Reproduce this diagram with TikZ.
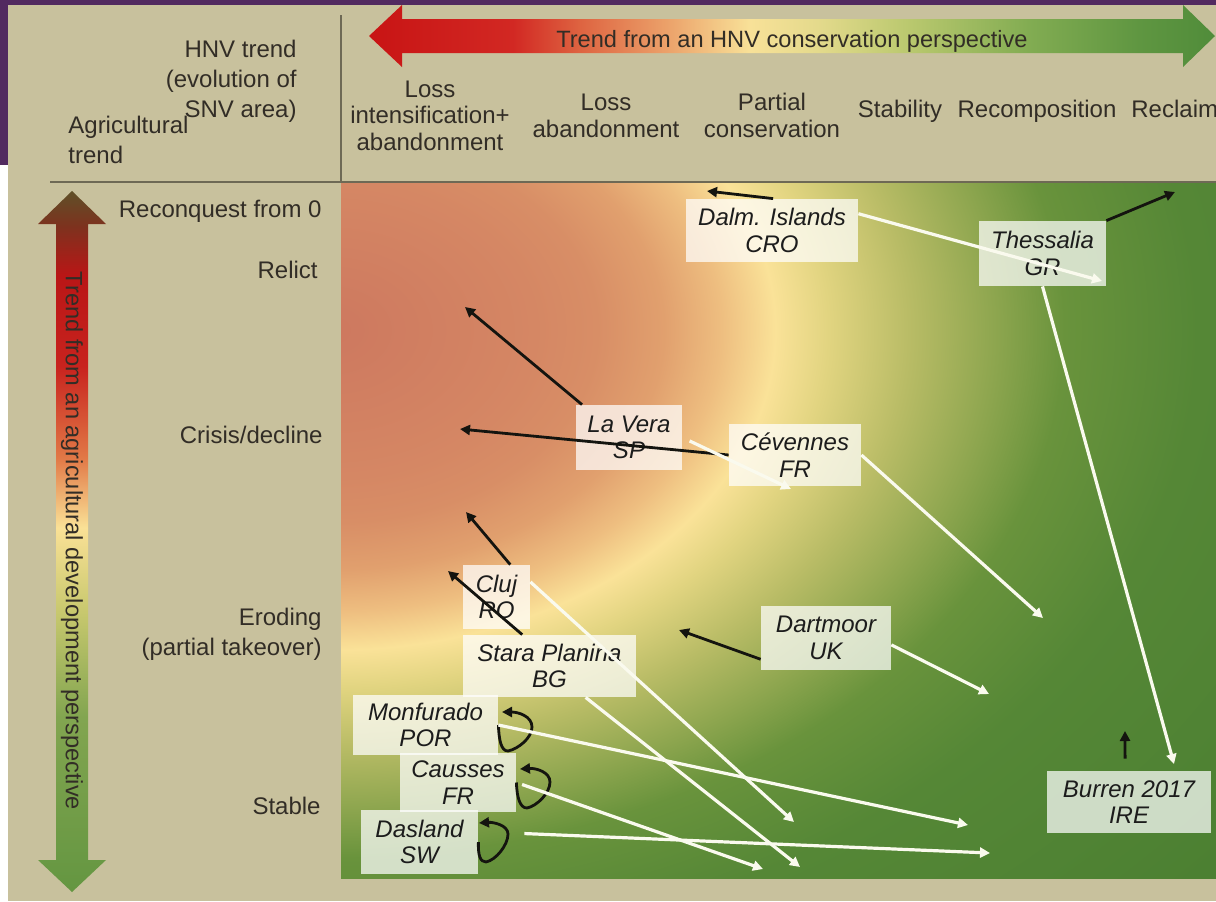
\documentclass[tikz,border=0pt]{standalone}
\usepackage{fontspec}
\setmainfont{Liberation Sans}
\usetikzlibrary{arrows.meta}
\definecolor{beige}{RGB}{200,193,157}
\definecolor{purp}{RGB}{82,42,96}
\definecolor{linec}{RGB}{110,105,85}
\definecolor{hdrtext}{RGB}{50,45,38}
\definecolor{boxtext}{RGB}{28,28,28}
\definecolor{blkcol}{RGB}{20,20,15}
\definecolor{whtcol}{RGB}{250,250,238}
% plot background
\definecolor{pA}{RGB}{205,120,95}
\definecolor{pB}{RGB}{213,135,100}
\definecolor{pC}{RGB}{216,142,102}
\definecolor{pD}{RGB}{225,160,110}
\definecolor{pE}{RGB}{238,190,128}
\definecolor{pF}{RGB}{250,226,152}
\definecolor{pG}{RGB}{225,212,128}
\definecolor{pH}{RGB}{185,188,102}
\definecolor{pI}{RGB}{140,165,78}
\definecolor{pJ}{RGB}{105,147,60}
\definecolor{pK}{RGB}{85,135,54}
\definecolor{pL}{RGB}{76,128,50}
\pgfdeclareradialshading{plotbg}{\pgfpoint{0bp}{0bp}}{%
 color(0bp)=(pA); color(5.78bp)=(pB); color(7.54bp)=(pC); color(9.42bp)=(pD);
 color(11.05bp)=(pE); color(12.56bp)=(pF); color(14.07bp)=(pG); color(16.33bp)=(pH);
 color(18.84bp)=(pI); color(20.72bp)=(pJ); color(24.49bp)=(pK); color(32.66bp)=(pL); color(50bp)=(pL)}
% top arrow
\definecolor{tA}{RGB}{200,20,20}
\definecolor{tB}{RGB}{210,40,35}
\definecolor{tC}{RGB}{222,100,65}
\definecolor{tD}{RGB}{235,160,105}
\definecolor{tE}{RGB}{248,225,152}
\definecolor{tF}{RGB}{228,218,140}
\definecolor{tG}{RGB}{185,200,110}
\definecolor{tH}{RGB}{130,172,82}
\definecolor{tI}{RGB}{95,150,65}
\definecolor{tJ}{RGB}{80,140,58}
\pgfdeclarehorizontalshading{topgrad}{100bp}{%
 color(0bp)=(tA); color(25bp)=(tA); color(33.5bp)=(tB); color(37.5bp)=(tC);
 color(42.5bp)=(tD); color(47.5bp)=(tE); color(51.5bp)=(tF); color(57bp)=(tG);
 color(64bp)=(tH); color(70.5bp)=(tI); color(75bp)=(tJ); color(100bp)=(tJ)}
% left arrow (bottom to top)
\definecolor{lA}{RGB}{100,150,65}
\definecolor{lB}{RGB}{130,165,80}
\definecolor{lC}{RGB}{200,200,110}
\definecolor{lD}{RGB}{250,225,150}
\definecolor{lE}{RGB}{225,120,70}
\definecolor{lF}{RGB}{200,35,30}
\definecolor{lG}{RGB}{185,22,22}
\definecolor{lH}{RGB}{125,50,30}
\definecolor{lI}{RGB}{95,80,40}
\pgfdeclareverticalshading{leftgrad}{100bp}{%
 color(0bp)=(lA); color(25bp)=(lA); color(37.5bp)=(lB); color(45bp)=(lC);
 color(51bp)=(lD); color(56bp)=(lE); color(62.5bp)=(lF); color(69bp)=(lG);
 color(72.5bp)=(lH); color(75bp)=(lI); color(100bp)=(lI)}
\tikzset{
 hdr/.style={font=\fontsize{12}{13.25}\selectfont, text=hdrtext, inner sep=0pt, align=center},
 hdrw/.style={font=\fontsize{12}{15}\selectfont, text=hdrtext, inner sep=0pt},
 rowlab/.style={font=\fontsize{12}{15}\selectfont, text=hdrtext, inner sep=0pt},
 arrtext/.style={font=\fontsize{11.8}{14}\selectfont, text=hdrtext, inner sep=0pt},
 site/.style 2 args={fill=white, fill opacity=0.72, text opacity=1, inner sep=0pt,
   align=center, font=\fontsize{12}{13.25}\itshape\selectfont, text=boxtext,
   minimum width=#1, minimum height=#2},
 blk/.style={draw=blkcol, line width=1.4pt, -{Triangle[length=5pt,width=5pt]}},
 wht/.style={draw=whtcol, line width=1.6pt, -{Triangle[length=5pt,width=5pt]}},
}
\begin{document}
\begin{tikzpicture}[x=0.5pt,y=-0.5pt]
\useasboundingbox (0,0) rectangle (1216,901);
% frame
\fill[white] (0,0) rectangle (1216,901);
\fill[beige] (8,5) rectangle (1216,901);
\fill[purp] (0,0) rectangle (1216,5);
\fill[purp] (0,0) rectangle (8,165);
% plot field
\begin{scope}
 \clip (341,183) rectangle (1216,878);
 \shade[shading=plotbg] (-556,-307) rectangle (1216,967);
\end{scope}
\draw[linec, line width=1pt] (50,182) -- (1216,182);
\draw[linec, line width=0.8pt] (341,15) -- (341,182);
% top double arrow
\shade[shading=topgrad] (369,36) -- (402,5) -- (402,19) -- (1183,19) -- (1183,5) -- (1215,36)
  -- (1183,67) -- (1183,53) -- (402,53) -- (402,67) -- cycle;
\node[arrtext, anchor=base] (toptxt) at (792,47) {Trend from an HNV conservation perspective};
% left double arrow
\shade[shading=leftgrad] (72,191) -- (106,224) -- (88,224) -- (88,860) -- (106,860) -- (72,892)
  -- (38,860) -- (56,860) -- (56,224) -- (38,224) -- cycle;
\node[arrtext, rotate=-90] (lefttxt) at (72,541) {Trend from an agricultural development perspective};
% header labels (base = baseline of the last line)
\node[hdrw, align=right, anchor=base east] (hnv) at (297,117) {HNV trend\\(evolution of\\SNV area)};
\node[hdrw, align=left, anchor=base west] (agr) at (68,163) {Agricultural\\trend};
\node[hdr, anchor=base] (c1) at (430,150) {Loss\\intensification+\\abandonment};
\node[hdr, anchor=base] (c2) at (606,137) {Loss\\abandonment};
\node[hdr, anchor=base] (c3) at (772,137) {Partial\\conservation};
\node[hdr, anchor=base] (c4) at (900,117) {Stability};
\node[hdr, anchor=base] (c5) at (1037,117) {Recomposition};
\node[hdr, anchor=base west] (c6) at (1131,117) {Reclaim};
% row labels
\node[rowlab, anchor=base east] (r1) at (322,217) {Reconquest from 0};
\node[rowlab, anchor=base east] (r2) at (318,278) {Relict};
\node[rowlab, anchor=base east] (r3) at (323,443) {Crisis/decline};
\node[rowlab, anchor=base east, align=right] (r4) at (322,655) {Eroding\\(partial takeover)};
\node[rowlab, anchor=base east] (r5) at (321,814) {Stable};
% site boxes
\node[site={86pt}{31.5pt}] (dalm) at (772,230.5) {Dalm. Islands\\CRO};
\node[site={63.5pt}{32.5pt}] (thess) at (1042.5,253.5) {Thessalia\\GR};
\node[site={53pt}{32.5pt}] (lavera) at (629,437.5) {La Vera\\SP};
\node[site={66pt}{31pt}] (cev) at (795,455) {Cévennes\\FR};
\node[site={33.5pt}{32pt}] (cluj) at (496.5,597) {Cluj\\RO};
\node[site={86.5pt}{31pt}] (stara) at (549.5,666) {Stara Planina\\BG};
\node[site={65pt}{32pt}] (dart) at (826,638) {Dartmoor\\UK};
\node[site={72.5pt}{30pt}] (monf) at (425.5,725) {Monfurado\\POR};
\node[site={58pt}{29.5pt}] (causses) at (458,782.5) {Causses\\FR};
\node[site={58.5pt}{32pt}] (dasland) at (419.5,842) {Dasland\\SW};
\node[site={82pt}{31pt}] (burren) at (1129,802) {Burren 2017\\IRE};
% free arrow ends
\coordinate (dalmB) at (707,191);
\coordinate (thessB) at (1175,192);
\coordinate (laveraB) at (465,307);
\coordinate (cevB) at (460,429);
\coordinate (clujB) at (466,512);
\coordinate (staraB) at (448,571);
\coordinate (dartB) at (679,630);
\coordinate (burrenB) at (1125,731);
\coordinate (dalmW) at (1102,281);
\coordinate (thessW) at (1174,764);
\coordinate (laveraW) at (791,489);
\coordinate (cevW) at (1043,618);
\coordinate (clujW) at (794,822);
\coordinate (staraW) at (800,867);
\coordinate (dartW) at (989,694);
\coordinate (monfW) at (968,825);
\coordinate (caussesW) at (763,869);
\coordinate (daslandW) at (990,853);
\coordinate (monfT) at (502,712);
\coordinate (caussesT) at (520,769);
\coordinate (daslandT) at (479,823);
% black arrows
\draw[blk] (dalm.88) -- (dalmB);
\draw[blk] (thess.north east) -- (thessB);
\draw[blk] (lavera.145) -- (laveraB);
\draw[blk] (cev.west) -- (cevB);
\draw[blk] (cluj.67) -- (clujB);
\draw[blk] (stara.131) -- (staraB);
\draw[blk] (dart.198) -- (dartB);
\draw[blk, shorten <=6pt] (burren.97) -- (burrenB);
\draw[blk] (monf.east) .. controls (499,740) and (501,751) .. (508,751)
  .. controls (518,749) and (532,738) .. (532,727)
  .. controls (532,716) and (518,712) .. (monfT);
\draw[blk] (causses.east) .. controls (517,798) and (520,808) .. (527,808)
  .. controls (537,806) and (550,793) .. (550,782)
  .. controls (550,772) and (536,768) .. (caussesT);
\draw[blk] (dasland.east) .. controls (478,855) and (480,862) .. (486,862)
  .. controls (496,860) and (508,845) .. (508,834)
  .. controls (508,825) and (493,822) .. (daslandT);
% white arrows
\draw[wht] (dalm.11) -- (dalmW);
\draw[wht] (thess.south) -- (thessW);
\draw[wht, shorten <=4pt] (lavera.east) -- (laveraW);
\draw[wht] (cev.east) -- (cevW);
\draw[wht] (cluj.24) -- (clujW);
\draw[wht] (stara.-41) -- (staraW);
\draw[wht] (dart.-6) -- (dartW);
\draw[wht] (monf.east) -- (monfW);
\draw[wht, shorten <=3pt] (causses.east) -- (caussesW);
\draw[wht, shorten <=23pt] (dasland.10) -- (daslandW);
\end{tikzpicture}
\end{document}
